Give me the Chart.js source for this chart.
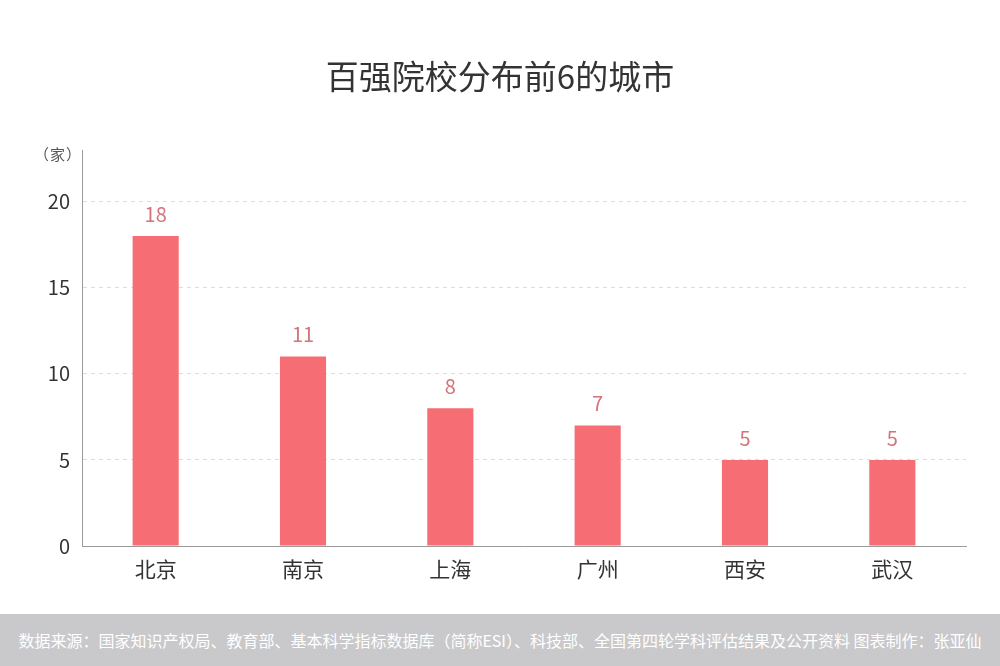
<!DOCTYPE html>
<html><head><meta charset="utf-8">
<script src="https://cdn.jsdelivr.net/npm/chart.js@4.4.0/dist/chart.umd.min.js"></script>
<style>
html,body{margin:0;padding:0;background:#fff;}
#wrap{position:relative;width:1000px;height:666px;overflow:hidden;font-family:"Noto Sans CJK SC","Noto Sans",sans-serif;}
#title{position:absolute;left:0;top:51px;width:1000px;text-align:center;font-size:33px;color:#333;}
#unit{position:absolute;left:34px;top:143px;font-size:15px;color:#555;letter-spacing:1px;}
#foot{position:absolute;left:0;top:614px;width:1000px;height:52px;background:#c9c9cb;color:#fff;font-size:16px;line-height:52px;text-align:center;white-space:nowrap;}
canvas{position:absolute;left:0;top:0;}
</style></head><body>
<div id="wrap">
<canvas id="c" width="1000" height="666"></canvas>
<div id="title">百强院校分布前6的城市</div>
<div id="unit">（家）</div>
<div id="foot">数据来源：国家知识产权局、教育部、基本科学指标数据库（简称ESI）、科技部、全国第四轮学科评估结果及公开资料 图表制作：张亚仙</div>
</div>
<script>
const categories = ["北京","南京","上海","广州","西安","武汉"];
const values = [18, 11, 8, 7, 5, 5];
const yTicks = [0, 5, 10, 15, 20];

const labelPlugin = {
  id: 'valLabels',
  afterDatasetsDraw(chart) {
    const ctx = chart.ctx;
    const meta = chart.getDatasetMeta(0);
    ctx.save();
    ctx.font = '20px "Noto Sans CJK SC", "Noto Sans", sans-serif';
    ctx.fillStyle = '#d4737b';
    ctx.textAlign = 'center';
    ctx.textBaseline = 'middle';
    meta.data.forEach((bar, i) => {
      ctx.fillText(String(values[i]), bar.x, bar.y - 22);
    });
    ctx.restore();
  }
};

new Chart(document.getElementById('c'), {
  type: 'bar',
  data: {
    labels: categories,
    datasets: [{
      data: values,
      backgroundColor: '#f66e74',
      borderWidth: 0,
      barPercentage: 0.626,
      categoryPercentage: 0.5
    }]
  },
  options: {
    responsive: false,
    animation: false,
    events: [],
    layout: { padding: { top: 150, left: 0, right: 34, bottom: 0 } },
    plugins: { legend: { display: false }, tooltip: { enabled: false }, title: { display: false } },
    scales: {
      x: {
        grid: { display: false, drawTicks: false },
        border: { display: true, color: '#9a9a9a', width: 1 },
        ticks: { padding: 10, color: '#333', font: { size: 21, family: '"Noto Sans CJK SC", "Noto Sans", sans-serif' } },
        afterFit(s) { s.height = 120; }
      },
      y: {
        min: 0, max: 23,
        afterBuildTicks(s) { s.ticks = yTicks.map(v => ({ value: v })); },
        grid: { color: '#dedede', lineWidth: 1, drawTicks: false },
        border: { display: true, color: '#9a9a9a', width: 1, dash: [4, 4] },
        ticks: { padding: 12, color: '#333', font: { size: 20, family: '"Noto Sans CJK SC", "Noto Sans", sans-serif' } },
        afterFit(s) { s.width = 82; }
      }
    }
  },
  plugins: [labelPlugin]
});
</script>
</body></html>
